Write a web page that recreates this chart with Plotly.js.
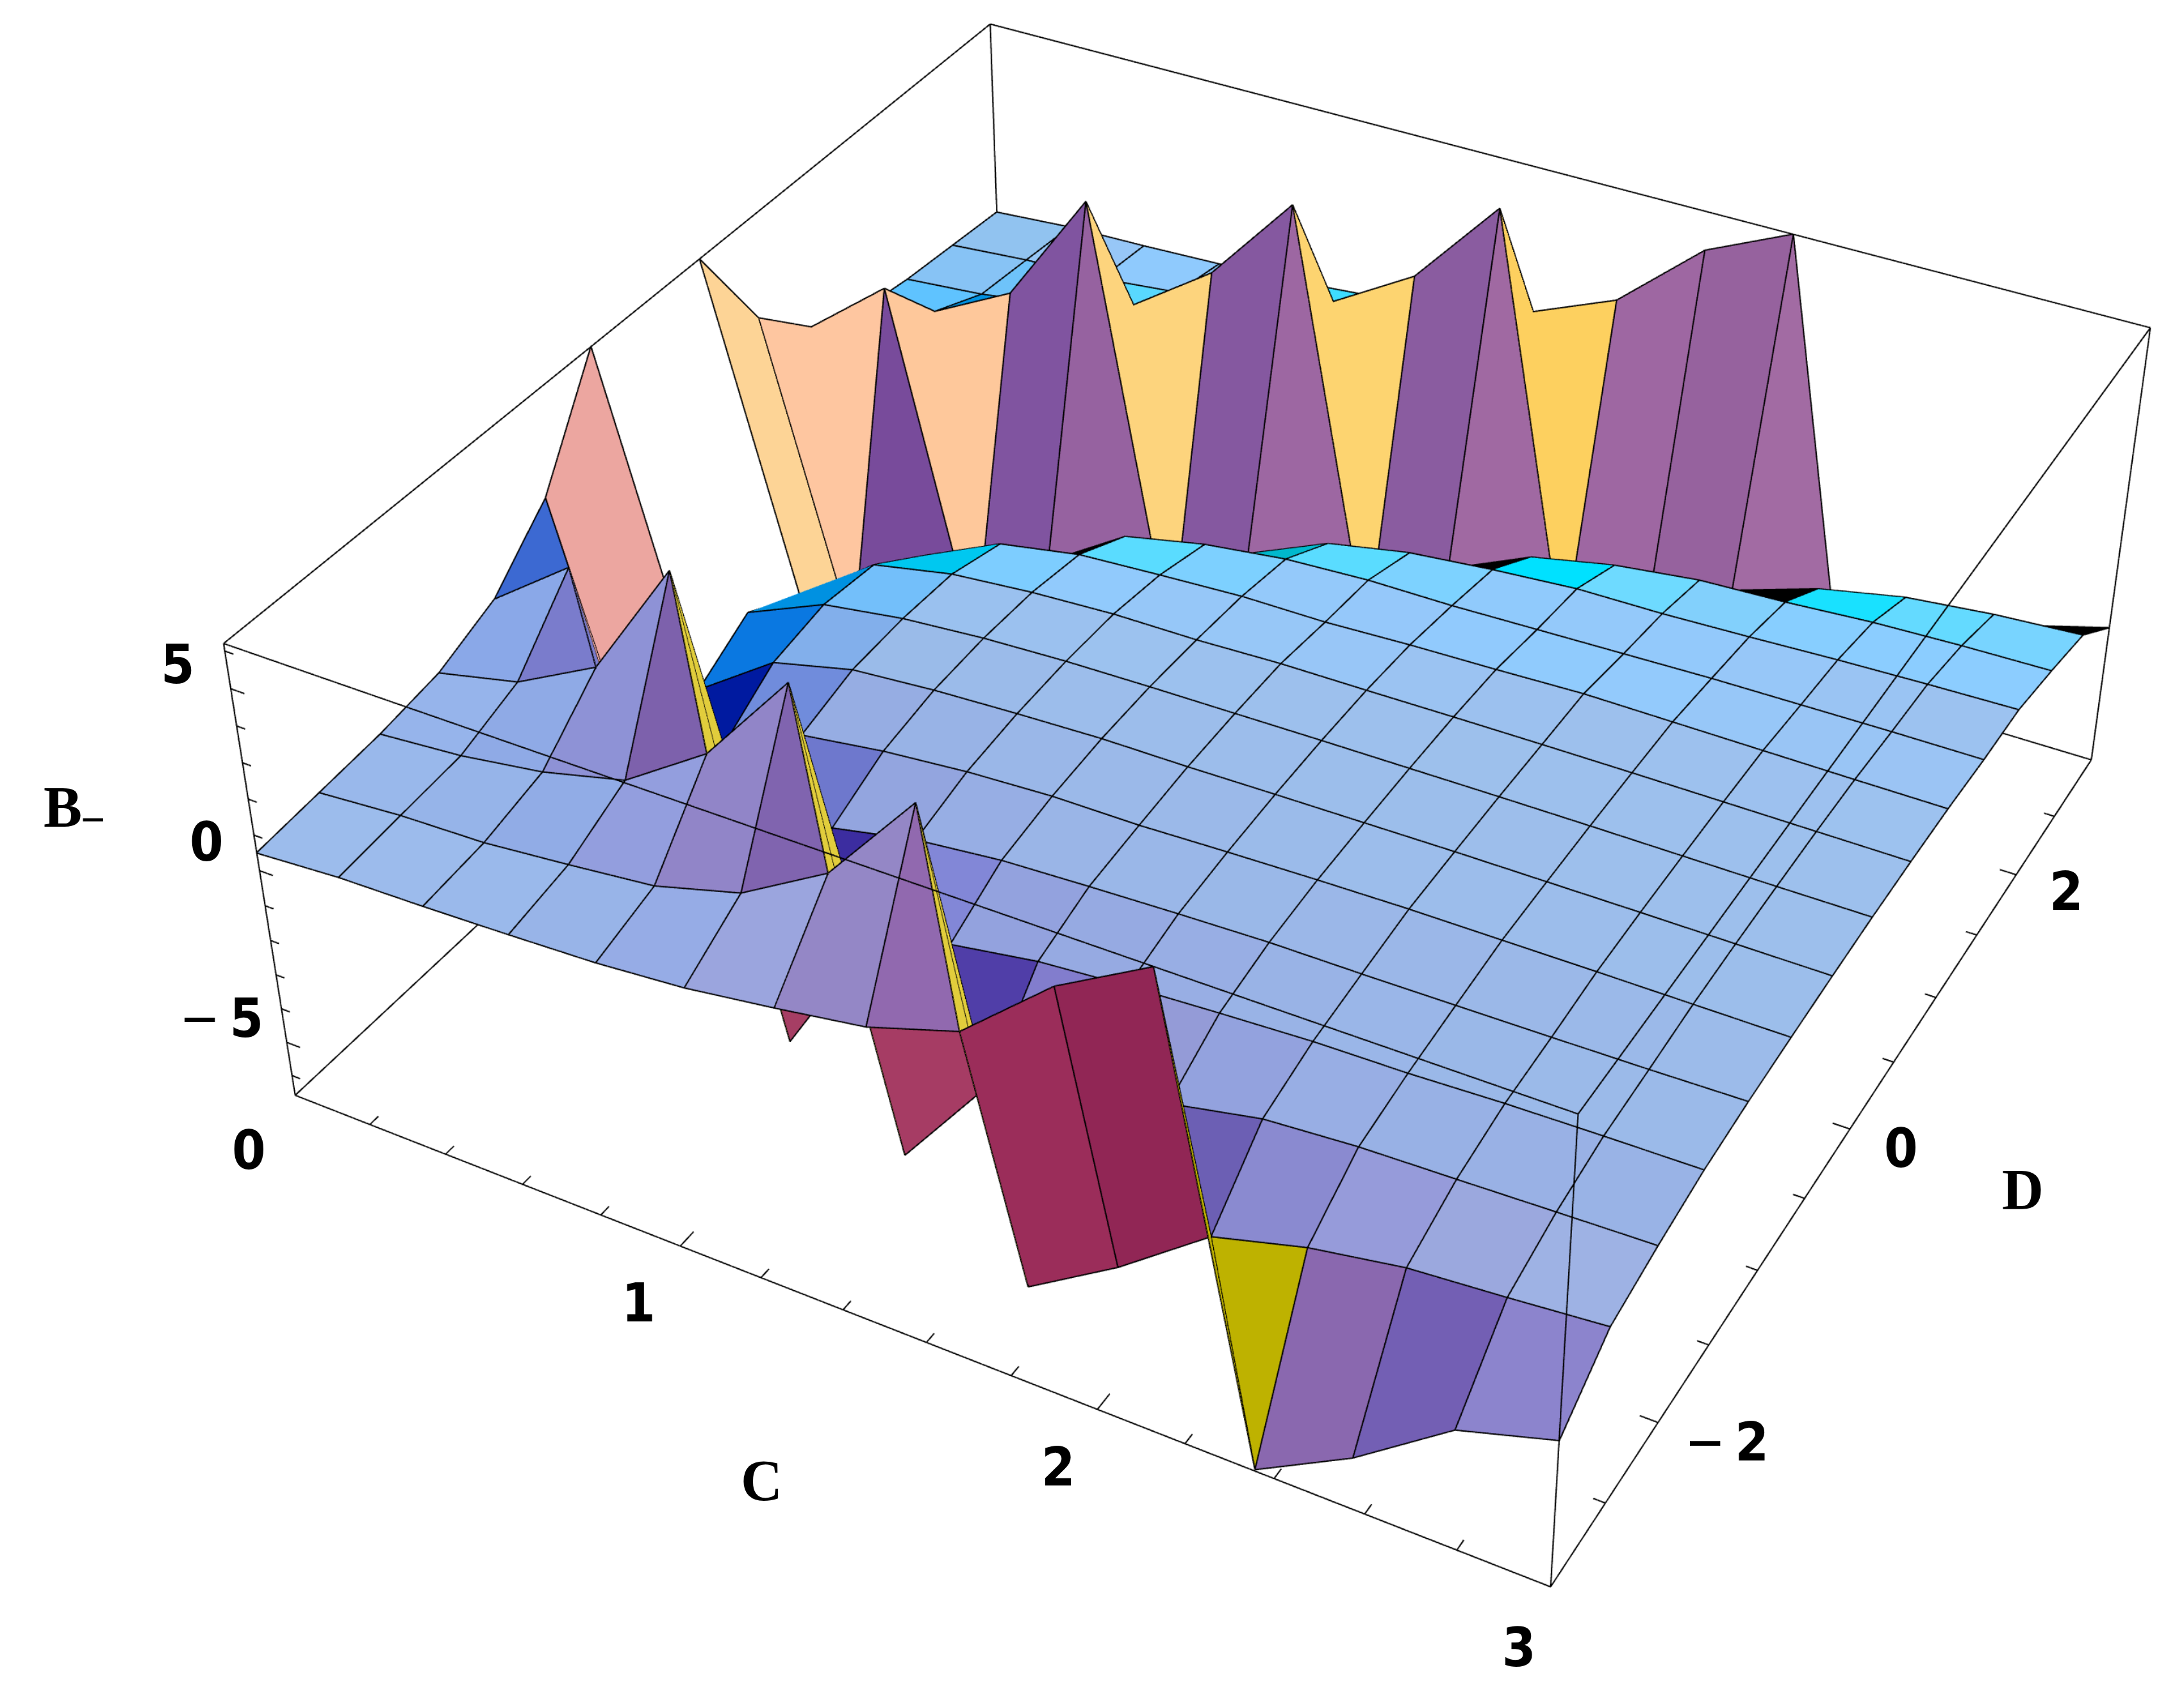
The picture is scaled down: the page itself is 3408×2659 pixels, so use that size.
<!DOCTYPE html><html><head><meta charset="utf-8"><script src="https://cdn.plot.ly/plotly-3.0.1.min.js"></script>
<style>html,body{margin:0;padding:0;width:3408px;height:2659px;overflow:hidden;background:#fff}#g{position:absolute;left:-1908px;top:-1890px;width:7670px;height:5985px}</style></head><body><div id="g"></div><script>
var cValues=[0,3/14,6/14,9/14,12/14,15/14,18/14,21/14,24/14,27/14,30/14,33/14,36/14,39/14,3];
var dValues=[-3,-18/7,-15/7,-12/7,-9/7,-6/7,-3/7,0,3/7,6/7,9/7,12/7,15/7,18/7,3];
var zRows=[
[.5,.67,.73,.82,.93,1.14,1.5,1.9,2.7,4.8,6.2,-6.55,-5.1,-3.2,-2.4],
[.65,.84,.92,1.16,1.43,2.1,3.5,6.2,-6.3,-4.7,-2.8,-2.1,-1.65,-1.45,-1.22],
[.8,1,1.36,1.95,3.5,6.2,-6.2,-3.2,-2.3,-1.8,-1.28,-1.1,-1.03,-.95,-.88],
[1.07,1.6,2.8,6.2,-6.4,-2.6,-1.7,-1.3,-1.1,-.96,-.84,-.8,-.7,-.65,-.62],
[1.75,3.4,-6.4,-2.8,-1.65,-1.15,-.89,-.78,-.69,-.62,-.62,-.6,-.58,-.55,-.5],
[3.26,-5.5,-2.4,-1.28,-.94,-.72,-.6,-.6,-.52,-.46,-.42,-.42,-.42,-.43,-.44],
[6.2,-3,-1.4,-.83,-.64,-.53,-.45,-.45,-.42,-.4,-.38,-.38,-.38,-.39,-.4],
[null,-2.1,-1.1,-.75,-.56,-.46,-.42,-.4,-.38,-.37,-.36,-.36,-.37,-.38,-.38],
[6.2,-3,-1.3,-.83,-.62,-.5,-.49,-.41,-.4,-.38,-.37,-.37,-.38,-.39,-.4],
[3.3,-5.7,-2.4,-1.3,-.88,-.74,-.62,-.62,-.52,-.46,-.38,-.4,-.42,-.44,-.45],
[1.8,3.6,-6.4,-3.2,-1.7,-1.2,-.9,-.78,-.78,-.72,-.66,-.6,-.58,-.56,-.56],
[1.05,1.7,2.9,6.2,-6.4,-2.85,-1.8,-1.34,-1.1,-.92,-.9,-.82,-.72,-.65,-.6],
[.8,1,1.36,2,3.6,6.2,-6.2,-3.2,-2.1,-1.6,-1.3,-1.2,-1.04,-.96,-.92],
[.65,.84,.92,1.16,1.43,2.2,3.6,6.2,-6.3,-4.7,-3,-2.2,-1.7,-1.45,-1.3],
[.5,.67,.73,.82,.93,1.14,1.5,2,3,5.1,6.2,-6.55,-5.1,-3.2,-2.5]];
var zMin=-6.6,zMax=6.2;
var cTicks=[0,.2,.4,.6,.8,1,1.2,1.4,1.6,1.8,2,2.2,2.4,2.6,2.8,3];
var dTicks=[-3,-2.5,-2,-1.5,-1,-.5,0,.5,1,1.5,2,2.5,3];
var bTicks=[-6,-5,-4,-3,-2,-1,0,1,2,3,4,5,6];
var cLabels=[0,1,2,3],dLabels=[-2,0,2],bLabels=[-5,0,5];
// face colours, keyed "column,row" of a grid cell
var cellColors={
'0,0':'#9cbcec','1,0':'#9cbbec','2,0':'#9ab9eb','3,0':'#98b4e8','4,0':'#96ace6','5,0':'#9ba5de','0,1':'#99b8eb','1,1':'#96b4e9','2,1':'#91ace6','3,1':'#939ede','0,2':'#96b4eb','1,2':'#8faae6',
'0,3':'#8aa8e8','0,4':'#3c69d2','0,5':'#eca6a0','1,4':'#eca6a0','1,3':'#7a7ccc','2,2':'#8e92d6','3,2':['#7d61ac','#e1cd3c'],'3,3':'#e1cd3c',
'4,1':'#9185c8','5,1':['#8064af','#e1cd3c'],'5,2':'#e1cd3c','6,0':'#9487c6','7,0':['#9169af','#e1cd3c'],'7,1':'#e1cd3c',
'6,1':'#a63c64','4,2':'#a63e64','8,0':'#9b2d5a','9,0':'#912655','10,0':'#beb200','11,0':'#8a68af','12,0':'#735fb4','13,0':'#8c84cd',
'1,5':'#001aa0','1,6':'#0a78e1','1,7':'#0091e1','2,5':'#708cdc','2,6':'#82afeb','2,7':'#73bffa','2,8':'#00c8f0',
'3,4':'#6e78cd','4,3':'#3c2da0','5,3':'#8287d7','6,2':'#503ea8','7,2':'#827dcd','8,2':'#949bd7',
'9,1':'#6c5fb4','10,1':'#8a8ad0','11,1':'#969bda','12,1':'#9ba8de','13,1':'#9eb2e4',
'3,8':'#7dcdff','3,9':'#000000','4,9':'#5adcff','5,9':'#7dd0ff','5,10':'#00b9cd','6,10':'#5adcff','7,10':'#7dd2ff','7,11':'#000000',
'8,11':'#00e1ff','9,11':'#6edaff','10,11':'#82d0fc','10,12':'#000000','11,12':'#19e1ff','12,12':'#64daff','13,12':'#78d4ff','13,13':'#000000',
'0,11':'#5fc3ff','1,11':'#0091e1','1,12':'#6ec3fa','3,12':'#00beff','0,12':'#87c3f5','0,13':'#91c3f0','3,13':'#87c3f5',
'0,8':'#fdd496','0,9':'#fec6a0','1,9':'#784b9b','1,10':'#fec89b','2,10':'#8054a0','3,10':'#9662a0','3,11':'#fdd47d',
'4,11':'#8558a0','5,11':'#9d67a2','5,12':'#fdd470','6,12':'#8a5ca0','7,12':'#a069a2','7,13':'#fdd05f','8,13':'#9e67a2','9,13':'#96629e','10,13':'#a26ba3'};
var notchCells={'0,9':1,'1,10':1,'3,11':1,'5,12':1,'7,13':1,'3,9':1,'5,10':1,'7,11':1,'10,12':1,'13,13':1};

var n=15,vx=[],vy=[],vz=[],ti=[],tj=[],tk=[],fc=[];
function id(c,r){return r*n+c}
for(var r=0;r<n;r++)for(var c=0;c<n;c++){vx.push(cValues[c]);vy.push(dValues[r]);vz.push(zRows[r][c]===null?0:zRows[r][c])}
var eye=[1.3,-2.4,2];
function box(v){return [vx[v]/3-.5,vy[v]/6,(vz[v]-zMin)/(zMax-zMin)*.4-.2]}
function normalOf(A,u,w){
 var nn=[u[1]*w[2]-u[2]*w[1],u[2]*w[0]-u[0]*w[2],u[0]*w[1]-u[1]*w[0]];
 var L=Math.hypot(nn[0],nn[1],nn[2])||1;nn=nn.map(function(v){return v/L});
 if(nn[0]*(eye[0]-A[0])+nn[1]*(eye[1]-A[1])+nn[2]*(eye[2]-A[2])<0)nn=nn.map(function(v){return -v});
 return nn;
}
function sub(a,b){return [a[0]-b[0],a[1]-b[1],a[2]-b[2]]}
function colorN(m){
 var R,G,Bl;
 if(m[2]>.6){
  R=.615+(m[1]>0?-3.5*m[1]*m[1]:.1*m[1])+.1*m[0];G=.75+.4*m[1]+.05*m[0];Bl=.925+(m[1]>0?.6:.18)*m[1]+.05*m[0];
 }else{
  var x=.787*m[0]+.069*m[1],y=.0816*m[0]+.253*m[1]+.437*m[2],z=.137*m[0]-.959*m[1]+.863*m[2];
  R=(x+z)/1.414;G=(x+y+z)/1.732;Bl=(y+z)/1.414;
 }
 function q(v){return Math.round(255*Math.max(0,Math.min(1,v)))}
 return 'rgb('+q(R)+','+q(G)+','+q(Bl)+')';
}
var lx=[],ly=[],lz=[],off=.0015;
function pushSeg(a,b){
 [a,b].forEach(function(v){lx.push(vx[v]+off*eye[0]/3.38*3);ly.push(vy[v]+off*eye[1]/3.38*6);lz.push(vz[v]+off*eye[2]/3.38*32)});
 lx.push(null);ly.push(null);lz.push(null);
}
for(r=0;r<n;r++)for(c=0;c<n;c++){
 if(zRows[r][c]===null)continue;
 if(c<n-1&&zRows[r][c+1]!==null)pushSeg(id(c,r),id(c+1,r));
 if(r<n-1&&zRows[r+1][c]!==null)pushSeg(id(c,r),id(c,r+1));
}
for(r=0;r<n-1;r++)for(c=0;c<n-1;c++){
 var z00=zRows[r][c],z10=zRows[r][c+1],z01=zRows[r+1][c],z11=zRows[r+1][c+1];
 if(z00===null||z10===null||z01===null||z11===null)continue;
 var p00=id(c,r),p10=id(c+1,r),p01=id(c,r+1),p11=id(c+1,r+1);
 var key=c+','+r,notch=notchCells[key];
 var warp=Math.abs(z00+z11-z10-z01);
 var useA=notch?false:Math.abs(z00-z11)<=Math.abs(z10-z01);
 var tris=useA?[[p00,p10,p11],[p00,p11,p01]]:[[p00,p10,p01],[p10,p11,p01]];
 var split=warp>=5;
 var baseA=box(p00);
 tris.forEach(function(t,k){
  var col=cellColors[key];
  if(Array.isArray(col))col=col[k];
  if(!col){
   var m=split?normalOf(box(t[0]),sub(box(t[1]),box(t[0])),sub(box(t[2]),box(t[0]))):normalOf(baseA,sub(box(p11),box(p00)),sub(box(p01),box(p10)));
   col=colorN(m);
  }
  ti.push(t[0]);tj.push(t[1]);tk.push(t[2]);fc.push(col);
 });
 if(split&&!notch){if(useA)pushSeg(p00,p11);else pushSeg(p10,p01)}
}
// frame and ticks
var fx=[],fy=[],fz=[];
function seg(x0,y0,z0,x1,y1,z1){fx.push(x0,x1,null);fy.push(y0,y1,null);fz.push(z0,z1,null)}
[[0,-3],[3,-3],[3,3],[0,3]].forEach(function(p,k,all){
 var q=all[(k+1)%4];
 seg(p[0],p[1],zMin,q[0],q[1],zMin);seg(p[0],p[1],zMax,q[0],q[1],zMax);seg(p[0],p[1],zMin,p[0],p[1],zMax);
});
cTicks.forEach(function(t){var m=Math.abs(t-Math.round(t))<1e-6;seg(t,-3,zMin,t,-3+(m?.1:.06),zMin)});
dTicks.forEach(function(t){var m=Math.abs(t%2)<1e-6;seg(3,t,zMin,3-(m?.04:.026),t,zMin)});
bTicks.forEach(function(t){var m=t%5===0;seg(0,-3,t,m?.035:.022,-3,t)});

var digit='DejaVu Sans Condensed, Liberation Sans, sans-serif';
var font={family:digit,size:84,color:'#000'};
var letter={family:'Liberation Serif, serif',size:90,color:'#000'};
function lab(x,y,z,t,dx,dy,f){return {x:x,y:y,z:z,text:t,showarrow:false,xshift:dx,yshift:-dy,xanchor:'center',yanchor:'middle',font:f||font}}
function txt(v){return v<0?'\u2212\u2009<b>'+Math.abs(v)+'</b>':'<b>'+v+'</b>'}
var ann=[];
var cShift=[[-72,86],[-65,89],[-61,90],[-49,95]];
cLabels.forEach(function(v,k){ann.push(lab(v,-3,zMin,txt(v),cShift[k][0],cShift[k][1]))});
var dShift=[[107,30],[80,30],[78,26]];
dLabels.forEach(function(v,k){ann.push(lab(3,v,zMin,txt(v),dShift[k][0],dShift[k][1]))});
var bShift=[[-102,-38],[-83,-45],[-83,-38]];
bLabels.forEach(function(v,k){ann.push(lab(0,-3,v,txt(v),bShift[k][0],bShift[k][1]))});
ann.push(lab(1.5,-3,zMin,'<b>C</b>',-192,241,letter));
ann.push(lab(3,0,zMin,'<b>D</b>',270,95,letter));
ann.push(lab(0,-3,0,'<b>B</b>',-307,-99,letter));
ann.push(lab(0,-3,0,'\u2212',-260,-81,{family:digit,size:56,color:'#000'}));

var axis={visible:false,showgrid:false,zeroline:false,showspikes:false};
var pad=1.02,zMid=(zMin+zMax)/2,zHalf=(zMax-zMin)/2*pad;
Plotly.newPlot('g',[
 {type:'mesh3d',x:vx,y:vy,z:vz,i:ti,j:tj,k:tk,facecolor:fc,flatshading:true,lighting:{ambient:1,diffuse:0,specular:0,roughness:1,fresnel:0},hoverinfo:'skip',showscale:false},
 {type:'scatter3d',mode:'lines',x:lx,y:ly,z:lz,line:{color:'#000',width:3.6},hoverinfo:'skip'},
 {type:'scatter3d',mode:'lines',x:fx,y:fy,z:fz,line:{color:'#000',width:3.6},hoverinfo:'skip'}
],{margin:{l:0,r:0,t:0,b:0},showlegend:false,paper_bgcolor:'#fff',scene:{domain:{x:[0,1],y:[0,1]},aspectmode:'manual',aspectratio:{x:pad,y:pad,z:.4*pad},camera:{eye:{x:1.3,y:-2.4,z:2},up:{x:0,y:0,z:1},center:{x:0,y:0,z:0}},
 xaxis:Object.assign({range:[1.5-1.5*pad,1.5+1.5*pad]},axis),yaxis:Object.assign({range:[-3*pad,3*pad]},axis),zaxis:Object.assign({range:[zMid-zHalf,zMid+zHalf]},axis),annotations:ann}},{plotGlPixelRatio:1,displayModeBar:false});
</script></body></html>
